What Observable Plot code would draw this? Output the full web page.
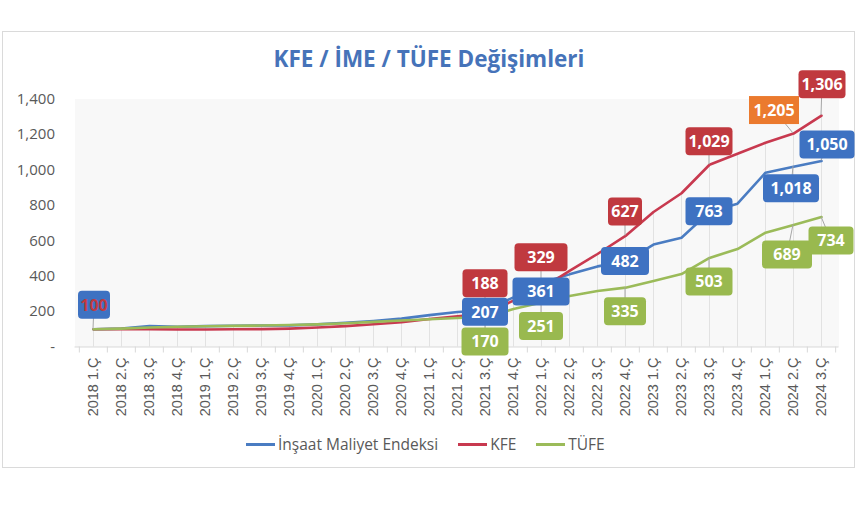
<!DOCTYPE html>
<html>
<head>
<meta charset="utf-8">
<script src="https://cdn.jsdelivr.net/npm/d3@7"></script>
<script src="https://cdn.jsdelivr.net/npm/@observablehq/plot@0.6"></script>
<style>
  html, body { margin: 0; padding: 0; background: #fff; }
  #wrap { position: relative; width: 860px; height: 505px; overflow: hidden; font-family: "Open Sans", sans-serif; }
  #border { position: absolute; left: 2px; top: 31px; width: 853px; height: 437px; border: 1px solid #dadada; box-sizing: border-box; }
  #chart { position: absolute; left: 0; top: 0; }
  #title { position: absolute; left: 0; top: 43px; width: 858px; text-align: center; font-weight: 700; font-size: 22.5px; color: #4673b9; }
  #legend { position: absolute; top: 433px; left: 246px; display: flex; align-items: center; font-size: 15.5px; color: #595959; white-space: nowrap; }
  #legend .item { display: flex; align-items: center; margin-right: 20px; }
  #legend .sw { display: inline-block; width: 29px; height: 3px; margin-right: 3px; }
</style>
</head>
<body>
<div id="wrap">
  <div id="border"></div>
  <div id="chart"></div>
  <div id="title"></div>
  <div id="legend"></div>
</div>
<script>
// ---- data ----
const categories = [
  "2018 1.Ç","2018 2.Ç","2018 3.Ç","2018 4.Ç",
  "2019 1.Ç","2019 2.Ç","2019 3.Ç","2019 4.Ç",
  "2020 1.Ç","2020 2.Ç","2020 3.Ç","2020 4.Ç",
  "2021 1.Ç","2021 2.Ç","2021 3.Ç","2021 4.Ç",
  "2022 1.Ç","2022 2.Ç","2022 3.Ç","2022 4.Ç",
  "2023 1.Ç","2023 2.Ç","2023 3.Ç","2023 4.Ç",
  "2024 1.Ç","2024 2.Ç","2024 3.Ç"
];
const ime  = [100,104,118,114,118,120,121,122,128,137,147,160,180,198,207,280,361,410,455,482,578,617,763,809,984,1018,1050];
const kfe  = [100,101,100,99,99,100,101,104,110,118,128,140,158,174,188,262,329,430,525,627,762,868,1029,1091,1153,1205,1306];
const tufe = [100,104,110,114,117,119,121,124,128,134,142,150,157,164,170,214,251,288,316,335,373,412,503,553,645,689,734];
const seriesNames = ["İnşaat Maliyet Endeksi", "KFE", "TÜFE"];
const yTicks = [0, 200, 400, 600, 800, 1000, 1200, 1400];
const titleText = "KFE / İME / TÜFE Değişimleri";

// labelled points: which series, which quarter index
const labelSeries = ["İME","İME","KFE","TÜFE","KFE","İME","TÜFE","KFE","İME","TÜFE","KFE","İME","TÜFE","KFE","KFE","İME","İME","TÜFE","TÜFE"];
const labelIndex  = [0,    14,   14,   14,    16,   16,   16,    19,   19,   19,    22,   22,   22,    25,   26,   25,   26,   25,    26];

// ---- styling / layout (not data) ----
const colors = { "İME": "#4a7cc2", "KFE": "#c8394f", "TÜFE": "#9bbb59" };
const boxColors = { "İME": "#3e72c2", "KFE": "#c0393f", "TÜFE": "#99b94f" };
// per label: pixel offset of box centre from point, box width, special fills
const labelLayout = [
  { dx: 1,   dy: -24, w: 32, fill: "#3e72c2", text: "#c0393f" },
  { dx: 0,   dy: 2,   w: 46 },
  { dx: 0,   dy: -30, w: 45 },
  { dx: 0,   dy: 25,  w: 47 },
  { dx: 0,   dy: -31, w: 53 },
  { dx: 0,   dy: 9,   w: 57 },
  { dx: 0,   dy: 24,  w: 44 },
  { dx: 0,   dy: -24, w: 34 },
  { dx: 0,   dy: 0,   w: 48 },
  { dx: 0,   dy: 24,  w: 42 },
  { dx: 0,   dy: -23, w: 47 },
  { dx: 0,   dy: 0,   w: 47 },
  { dx: 0,   dy: 24,  w: 47 },
  { dx: -19, dy: -23, w: 50, fill: "#eb7a2e", square: true },
  { dx: 1,   dy: -31, w: 47 },
  { dx: -2,  dy: 22,  w: 56 },
  { dx: 6,   dy: -16, w: 55 },
  { dx: -6,  dy: 30,  w: 50 },
  { dx: 10,  dy: 24,  w: 45 }
];

const seriesData = { "İME": ime, "KFE": kfe, "TÜFE": tufe };
const lineKeys = ["İME", "KFE", "TÜFE"];
const rows = lineKeys.flatMap(k => seriesData[k].map((v, i) => ({ key: k, q: categories[i], v })));
const labels = labelSeries.map((s, j) => ({ s, i: labelIndex[j], v: seriesData[s][labelIndex[j]], ...labelLayout[j] }));
const fmt = d3.format(",");

const halfStep = 764 / 27 / 2;

const chart = Plot.plot({
  width: 860,
  height: 505,
  marginLeft: 74.5,
  marginRight: 21.5,
  marginTop: 98.5,
  marginBottom: 158.5,
  style: { background: "transparent", overflow: "visible" },
  x: { type: "point", domain: categories, padding: 0.5, axis: null },
  y: { domain: [0, 1400] },
  marks: [
    Plot.frame({ fill: "#f8f8f8", stroke: null }),
    // drop lines
    Plot.ruleX(categories, {
      x: d => d, y1: 0,
      y2: (d, i) => Math.max(ime[i], kfe[i], tufe[i]),
      stroke: "#e2e2e2", strokeWidth: 1
    }),
    Plot.ruleY([0], { stroke: "#d9d9d9" }),
    // category boundary ticks
    Plot.ruleX(categories, { x: d => d, y1: 0, y2: 0, insetBottom: -6, dx: -halfStep, stroke: "#d9d9d9" }),
    Plot.ruleX(categories.slice(-1), { x: d => d, y1: 0, y2: 0, insetBottom: -6, dx: halfStep, stroke: "#d9d9d9" }),
    Plot.axisY({
      ticks: yTicks, tickSize: 0, tickPadding: 20, label: null,
      tickFormat: d => d === 0 ? "-" : fmt(d),
      fontSize: 15, fontFamily: "Open Sans", color: "#595959"
    }),
    // x tick labels (rotated), positioned by the x scale
    Plot.text(categories, {
      x: d => d,
      text: d => d,
      render(index, scales, values, dimensions) {
        const g = d3.create("svg:g");
        const y0 = dimensions.height - dimensions.marginBottom + 11;
        for (const k of index) {
          g.append("text")
            .attr("transform", `translate(${values.x[k]},${y0}) rotate(-90)`)
            .attr("text-anchor", "end")
            .attr("dy", "0.35em")
            .attr("font-family", "Liberation Sans")
            .attr("font-size", 14.5)
            .attr("fill", "#595959")
            .text(categories[k]);
        }
        return g.node();
      }
    }),
    Plot.line(rows, {
      x: "q", y: "v", z: "key",
      stroke: d => colors[d.key], strokeWidth: 2.6, strokeLinejoin: "round", curve: "linear"
    }),
    Plot.text(labels, {
      x: d => categories[d.i],
      y: d => d.v,
      text: d => fmt(d.v),
      render(index, scales, values, dimensions, context) {
        const g = d3.create("svg:g");
        const h = 28;
        for (const k of index) {
          const d = labels[k];
          const px = values.x[k], py = values.y[k];
          const cx = px + d.dx, cy = py + d.dy;
          g.append("line")
            .attr("x1", px).attr("y1", py).attr("x2", cx).attr("y2", cy)
            .attr("stroke", "#a6a6a6").attr("stroke-width", 1);
        }
        for (const k of index) {
          const d = labels[k];
          const cx = values.x[k] + d.dx, cy = values.y[k] + d.dy;
          g.append("rect")
            .attr("x", cx - d.w / 2).attr("y", cy - h / 2)
            .attr("width", d.w).attr("height", h)
            .attr("rx", d.square ? 0 : 4)
            .attr("fill", d.fill || boxColors[d.s]);
          g.append("text")
            .attr("x", cx).attr("y", cy).attr("dy", "0.36em")
            .attr("text-anchor", "middle")
            .attr("font-family", "Open Sans")
            .attr("font-weight", 700)
            .attr("font-size", 16)
            .attr("fill", d.text || "#ffffff")
            .text(fmt(d.v));
        }
        return g.node();
      }
    })
  ]
});

document.getElementById("chart").appendChild(chart);
document.getElementById("title").textContent = titleText;

const legend = document.getElementById("legend");
lineKeys.forEach((k, j) => {
  const item = document.createElement("span");
  item.className = "item";
  const sw = document.createElement("span");
  sw.className = "sw";
  sw.style.background = colors[k];
  const t = document.createElement("span");
  t.textContent = seriesNames[j];
  item.appendChild(sw);
  item.appendChild(t);
  legend.appendChild(item);
});
</script>
</body>
</html>
